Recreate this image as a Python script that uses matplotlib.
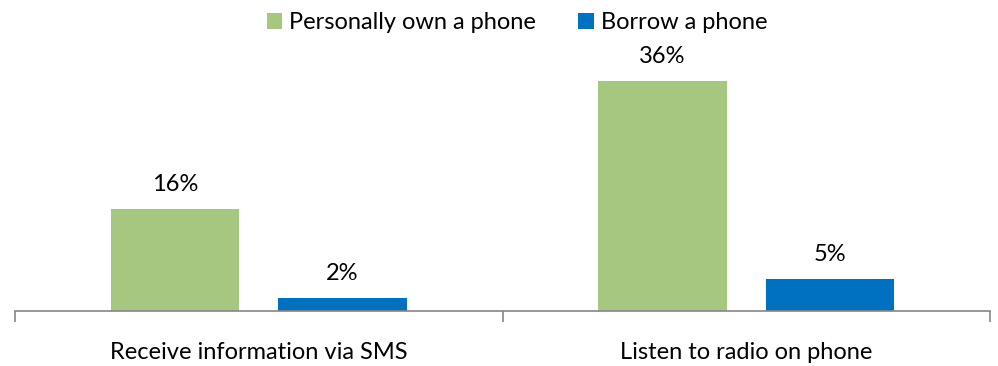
import matplotlib
matplotlib.use("Agg")
import matplotlib.pyplot as plt
import numpy as np

categories = ["Receive information via SMS", "Listen to radio on phone"]
own_phone = [16, 36]
borrow_phone = [2, 5]
series_names = ["Personally own a phone", "Borrow a phone"]

green = "#A6C77F"
blue = "#0070C0"

plt.rcParams['font.family'] = ['Lato', 'DejaVu Sans']

fig = plt.figure(figsize=(9.98, 3.66), dpi=100)
ax = fig.add_axes([15/998, 55/366, 975/998, 256/366])

x = np.arange(len(categories))
w = 0.263
off = 0.172
b1 = ax.bar(x - off, own_phone, w, color=green, label=series_names[0])
b2 = ax.bar(x + off, borrow_phone, w, color=blue, label=series_names[1])

for bars, vals in ((b1, own_phone), (b2, borrow_phone)):
    for r, v in zip(bars, vals):
        ax.text(r.get_x() + r.get_width()/2, v + 2.2, "%d%%" % v,
                ha='center', va='bottom', fontsize=17)

ax.set_xlim(-0.5, 1.5)
ax.set_ylim(0, 40)
ax.set_yticks([])
for s in ['top', 'right', 'left']:
    ax.spines[s].set_visible(False)
ax.spines['bottom'].set_color('#868686')
ax.spines['bottom'].set_linewidth(1.2)

ax.set_xticks([-0.5, 0.5, 1.5])
ax.set_xticklabels([])
ax.set_xticks(x, minor=True)
ax.set_xticklabels(categories, minor=True, fontsize=17)
ax.tick_params(axis='x', which='major', length=8, width=1.2, color='#868686')
ax.tick_params(axis='x', which='minor', length=0, pad=22)

fig.legend(handles=[b1, b2], loc='upper center', bbox_to_anchor=(0.518, 1.025),
           ncol=2, frameon=False, fontsize=17, handlelength=0.65, handleheight=0.65,
           handletextpad=0.3, columnspacing=1.8)

fig.savefig("out.png", dpi=100)
